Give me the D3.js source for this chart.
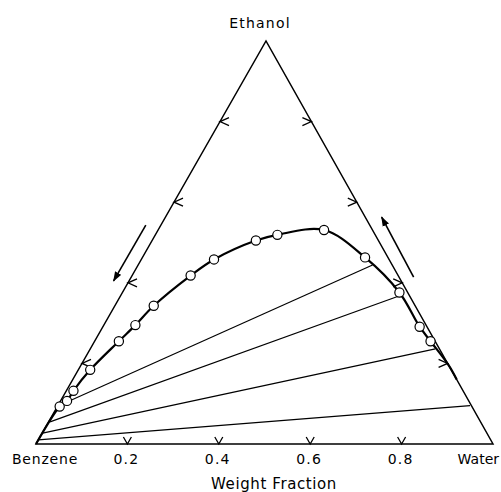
<!DOCTYPE html>
<html>
<head>
<meta charset="utf-8">
<script src="https://cdn.jsdelivr.net/npm/d3@7"></script>
<style>
  html, body { margin: 0; padding: 0; background: #fff; }
  svg { display: block; }
  text { font-family: "DejaVu Sans", sans-serif; fill: #000; }
</style>
</head>
<body>
<svg id="chart" width="501" height="492"></svg>
<script>
// ---- Data (weight fractions) ----
// Binodal (solubility) curve measured points
const binodalWater   = [0.005, 0.014, 0.0155, 0.026, 0.053, 0.069, 0.085, 0.128, 0.159, 0.227, 0.267, 0.363, 0.487, 0.606, 0.693, 0.735];
const binodalEthanol = [0.093, 0.107, 0.132, 0.184, 0.255, 0.295, 0.343, 0.418, 0.458, 0.505, 0.519, 0.531, 0.463, 0.376, 0.291, 0.255];
// Curve end points (benzene corner and along the water–ethanol edge)
const curveStart = [[0, 0]];
const curveEnd   = [[0.805, 0.195], [0.84, 0.16]];
// Tie lines: benzene-rich end and water-rich end
const tieLeftWater    = [0.011, 0.003, 0.001, 0.0];
const tieLeftEthanol  = [0.101, 0.055, 0.027, 0.010];
const tieRightWater   = [0.513, 0.607, 0.755, 0.902];
const tieRightEthanol = [0.444, 0.366, 0.236, 0.095];
// Axis ticks
const tickValues = [0.2, 0.4, 0.6, 0.8];
const tickLabels = ["0.2", "0.4", "0.6", "0.8"];
const vertexLabels = ["Benzene", "Water", "Ethanol"];
const axisTitle = "Weight Fraction";

// ---- Layout ----
const svg = d3.select("#chart");
const B = {x: 36, y: 444}, W = {x: 493, y: 444}, E = {x: 266, y: 41};
const xScale = d3.scaleLinear().domain([0, 1]).range([B.x, W.x]);
const yScale = d3.scaleLinear().domain([0, 1]).range([B.y, E.y]);
const k = (E.x - B.x) / (W.x - B.x);
const proj = (w, e) => [xScale(w + e * k), yScale(e)];

// Triangle
svg.append("path")
  .attr("d", d3.line()([proj(0,0), proj(1,0), proj(0,1)]) + "Z")
  .attr("fill", "none").attr("stroke", "#000").attr("stroke-width", 1.5)
  .attr("stroke-linejoin", "miter");

// Ticks (chevrons pointing outward)
const tickG = svg.append("g").attr("stroke", "#000").attr("stroke-width", 1.3).attr("fill", "none");
tickValues.forEach(v => {
  // bottom (water)
  let p = proj(v, 0);
  tickG.append("path").attr("d", `M${p[0]-4},${p[1]-7}L${p[0]},${p[1]}L${p[0]+4},${p[1]-7}`);
  // left edge (benzene-ethanol)
  p = proj(0, v);
  tickG.append("path").attr("d", `M${p[0]+9},${p[1]-4}L${p[0]},${p[1]}L${p[0]+9},${p[1]+4}`);
  // right edge (water-ethanol)
  p = proj(1 - v, v);
  tickG.append("path").attr("d", `M${p[0]-9},${p[1]-4}L${p[0]},${p[1]}L${p[0]-9},${p[1]+4}`);
});

// Tie lines
const ties = tieLeftWater.map((w, i) => [proj(w, tieLeftEthanol[i]), proj(tieRightWater[i], tieRightEthanol[i])]);
svg.append("g").selectAll("path").data(ties).join("path")
  .attr("d", d => d3.line()(d))
  .attr("stroke", "#000").attr("stroke-width", 1.2).attr("fill", "none");

// Binodal curve
const binodal = binodalWater.map((w, i) => [w, binodalEthanol[i]]);
const curvePts = curveStart.concat(binodal, curveEnd).map(d => proj(d[0], d[1]));
svg.append("path")
  .attr("d", d3.line().curve(d3.curveCatmullRom.alpha(0.5))(curvePts))
  .attr("fill", "none").attr("stroke", "#000").attr("stroke-width", 2.2);

// Points
svg.append("g").selectAll("circle").data(binodal).join("circle")
  .attr("cx", d => proj(d[0], d[1])[0])
  .attr("cy", d => proj(d[0], d[1])[1])
  .attr("r", 4.6)
  .attr("fill", "#fff").attr("stroke", "#000").attr("stroke-width", 1.2);

// Direction arrows (parallel to the edges, outside)
const defs = svg.append("defs");
defs.append("marker").attr("id", "ah")
  .attr("viewBox", "0 -4 10 8").attr("refX", 9).attr("refY", 0)
  .attr("markerWidth", 10).attr("markerHeight", 8)
  .attr("markerUnits", "userSpaceOnUse").attr("orient", "auto")
  .append("path").attr("d", "M0,-3.5L10,0L0,3.5Z").attr("fill", "#000");
const arrows = [
  [proj(-0.033, 0.543), proj(-0.034, 0.405)],
  [proj(0.618, 0.414), proj(0.473, 0.563)]
];
svg.append("g").selectAll("path").data(arrows).join("path")
  .attr("d", d => d3.line()(d))
  .attr("stroke", "#000").attr("stroke-width", 1.6).attr("fill", "none")
  .attr("marker-end", "url(#ah)");

// Labels
const pB = proj(0, 0), pW = proj(1, 0), pE = proj(0, 1);
svg.append("text").attr("x", pB[0] + 9).attr("y", 464).attr("text-anchor", "middle")
  .attr("font-size", 14).attr("letter-spacing", 0.8).text(vertexLabels[0]);
svg.append("text").attr("x", 499).attr("y", 464).attr("text-anchor", "end")
  .attr("font-size", 14).text(vertexLabels[1]);
svg.append("text").attr("x", pE[0] - 6).attr("y", 28).attr("text-anchor", "middle")
  .attr("font-size", 14).attr("letter-spacing", 1.2).text(vertexLabels[2]);
svg.append("g").selectAll("text").data(tickValues).join("text")
  .attr("x", d => proj(d, 0)[0] - 1).attr("y", 464).attr("text-anchor", "middle")
  .attr("font-size", 14).attr("letter-spacing", 1.2)
  .text((d, i) => tickLabels[i]);
svg.append("text").attr("x", 274).attr("y", 489).attr("text-anchor", "middle")
  .attr("font-size", 15).attr("letter-spacing", 0.6).text(axisTitle);
</script>
</body>
</html>
